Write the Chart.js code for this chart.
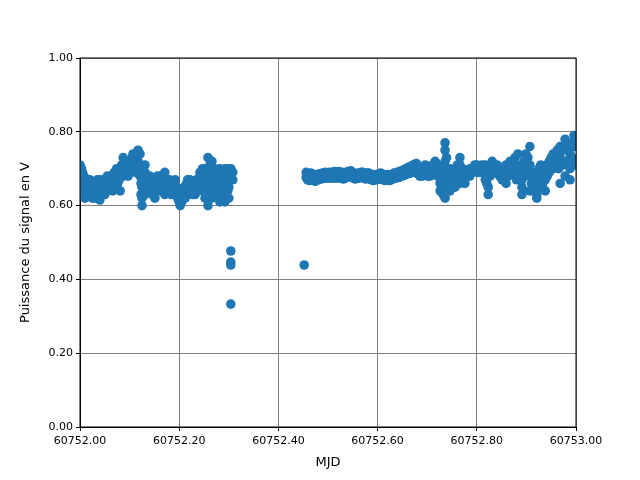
<!DOCTYPE html>
<html>
<head>
<meta charset="utf-8">
<script src="https://cdn.jsdelivr.net/npm/chart.js@4/dist/chart.umd.min.js"></script>
<style>
  html, body { margin: 0; padding: 0; background: #fff; }
  #zone { width: 640px; height: 480px; }
</style>
</head>
<body>
<div id="zone"><canvas id="canvasSignal"></canvas></div>
<script>
const mesuresMatin = [
    [60752.000, 0.71], [60752.000, 0.68], [60752.000, 0.66], [60752.000, 0.64],
    [60752.003, 0.70], [60752.003, 0.63],
    [60752.005, 0.67], [60752.005, 0.65], [60752.005, 0.69],
    [60752.008, 0.68], [60752.008, 0.63],
    [60752.010, 0.66], [60752.010, 0.64], [60752.010, 0.62],
    [60752.013, 0.66], [60752.013, 0.64],
    [60752.015, 0.65], [60752.015, 0.67], [60752.015, 0.63],
    [60752.018, 0.66], [60752.018, 0.64],
    [60752.020, 0.67], [60752.020, 0.64], [60752.020, 0.63],
    [60752.023, 0.65], [60752.023, 0.63],
    [60752.025, 0.62], [60752.025, 0.65], [60752.025, 0.66],
    [60752.028, 0.64], [60752.028, 0.63],
    [60752.030, 0.62], [60752.030, 0.64],
    [60752.033, 0.65], [60752.033, 0.63],
    [60752.035, 0.66], [60752.035, 0.63], [60752.035, 0.67],
    [60752.038, 0.65], [60752.038, 0.63],
    [60752.040, 0.615], [60752.040, 0.65], [60752.040, 0.67],
    [60752.043, 0.66], [60752.043, 0.63],
    [60752.045, 0.64], [60752.045, 0.66],
    [60752.048, 0.65], [60752.048, 0.67],
    [60752.050, 0.67], [60752.050, 0.64], [60752.050, 0.63],
    [60752.053, 0.65], [60752.053, 0.67],
    [60752.055, 0.66], [60752.055, 0.64], [60752.055, 0.68],
    [60752.058, 0.67], [60752.058, 0.65],
    [60752.060, 0.66], [60752.060, 0.65],
    [60752.063, 0.68], [60752.063, 0.66],
    [60752.066, 0.67], [60752.066, 0.64],
    [60752.069, 0.69], [60752.069, 0.66],
    [60752.071, 0.68], [60752.071, 0.67], [60752.071, 0.65],
    [60752.074, 0.70], [60752.074, 0.67],
    [60752.076, 0.69], [60752.076, 0.66],
    [60752.079, 0.70], [60752.079, 0.67],
    [60752.081, 0.69], [60752.081, 0.68], [60752.081, 0.64],
    [60752.084, 0.71], [60752.084, 0.69],
    [60752.087, 0.73], [60752.087, 0.71], [60752.087, 0.70], [60752.087, 0.68],
    [60752.090, 0.72], [60752.090, 0.70],
    [60752.092, 0.70], [60752.092, 0.69],
    [60752.095, 0.71], [60752.095, 0.69],
    [60752.097, 0.72], [60752.097, 0.69], [60752.097, 0.68],
    [60752.100, 0.71], [60752.100, 0.69],
    [60752.102, 0.71], [60752.102, 0.70],
    [60752.105, 0.73], [60752.105, 0.71],
    [60752.107, 0.74], [60752.107, 0.73], [60752.107, 0.70],
    [60752.110, 0.73], [60752.110, 0.70],
    [60752.112, 0.72], [60752.112, 0.69],
    [60752.115, 0.74], [60752.115, 0.71],
    [60752.117, 0.75], [60752.117, 0.72], [60752.117, 0.70],
    [60752.121, 0.74], [60752.121, 0.71], [60752.121, 0.68],
    [60752.123, 0.66], [60752.123, 0.63],
    [60752.125, 0.70], [60752.125, 0.62], [60752.125, 0.60], [60752.125, 0.65], [60752.125, 0.67],
    [60752.128, 0.69], [60752.128, 0.64],
    [60752.131, 0.71], [60752.131, 0.66], [60752.131, 0.63], [60752.131, 0.69],
    [60752.134, 0.67], [60752.134, 0.65],
    [60752.136, 0.66], [60752.136, 0.64],
    [60752.139, 0.67], [60752.139, 0.65],
    [60752.141, 0.64], [60752.141, 0.66], [60752.141, 0.68],
    [60752.144, 0.67], [60752.144, 0.65],
    [60752.146, 0.66], [60752.146, 0.63],
    [60752.149, 0.66], [60752.149, 0.64],
    [60752.151, 0.65], [60752.151, 0.62], [60752.151, 0.67],
    [60752.154, 0.67], [60752.154, 0.64],
    [60752.156, 0.66], [60752.156, 0.68],
    [60752.159, 0.67], [60752.159, 0.65],
    [60752.161, 0.66], [60752.161, 0.68], [60752.161, 0.64],
    [60752.164, 0.66], [60752.164, 0.64],
    [60752.166, 0.67], [60752.166, 0.65],
    [60752.169, 0.68], [60752.169, 0.66],
    [60752.171, 0.69], [60752.171, 0.67], [60752.171, 0.63],
    [60752.174, 0.67], [60752.174, 0.65],
    [60752.176, 0.66], [60752.176, 0.64],
    [60752.179, 0.66], [60752.179, 0.64],
    [60752.181, 0.65], [60752.181, 0.67],
    [60752.184, 0.65], [60752.184, 0.63],
    [60752.186, 0.66], [60752.186, 0.64],
    [60752.189, 0.66], [60752.189, 0.64],
    [60752.192, 0.67], [60752.192, 0.65], [60752.192, 0.63],
    [60752.194, 0.65], [60752.194, 0.63],
    [60752.197, 0.64], [60752.197, 0.62],
    [60752.200, 0.63], [60752.200, 0.61],
    [60752.202, 0.61], [60752.202, 0.60], [60752.202, 0.63],
    [60752.205, 0.63], [60752.205, 0.61],
    [60752.207, 0.62], [60752.207, 0.64],
    [60752.210, 0.63], [60752.210, 0.65],
    [60752.212, 0.62], [60752.212, 0.64],
    [60752.215, 0.64], [60752.215, 0.66],
    [60752.217, 0.65], [60752.217, 0.67], [60752.217, 0.64],
    [60752.220, 0.66], [60752.220, 0.64],
    [60752.222, 0.65], [60752.222, 0.67], [60752.222, 0.64],
    [60752.225, 0.64], [60752.225, 0.66],
    [60752.227, 0.63], [60752.227, 0.65],
    [60752.230, 0.64], [60752.230, 0.66],
    [60752.232, 0.63], [60752.232, 0.65],
    [60752.235, 0.65], [60752.235, 0.67],
    [60752.237, 0.66], [60752.237, 0.64],
    [60752.240, 0.65], [60752.240, 0.67],
    [60752.242, 0.66], [60752.242, 0.69], [60752.242, 0.68],
    [60752.245, 0.68], [60752.245, 0.65],
    [60752.247, 0.70], [60752.247, 0.66], [60752.247, 0.64],
    [60752.250, 0.68], [60752.250, 0.65],
    [60752.252, 0.70], [60752.252, 0.64], [60752.252, 0.62],
    [60752.254, 0.66], [60752.254, 0.68],
    [60752.256, 0.69], [60752.256, 0.67], [60752.256, 0.63],
    [60752.258, 0.73], [60752.258, 0.60], [60752.258, 0.66],
    [60752.260, 0.65], [60752.260, 0.70],
    [60752.262, 0.71], [60752.262, 0.62], [60752.262, 0.68],
    [60752.264, 0.66], [60752.264, 0.64],
    [60752.266, 0.72], [60752.266, 0.64], [60752.266, 0.62], [60752.266, 0.70],
    [60752.270, 0.69], [60752.270, 0.66],
    [60752.272, 0.68], [60752.272, 0.70], [60752.272, 0.63],
    [60752.275, 0.66], [60752.275, 0.69],
    [60752.277, 0.67], [60752.277, 0.65],
    [60752.280, 0.68], [60752.280, 0.64],
    [60752.282, 0.70], [60752.282, 0.66], [60752.282, 0.61],
    [60752.285, 0.67], [60752.285, 0.63],
    [60752.287, 0.68], [60752.287, 0.64],
    [60752.290, 0.69], [60752.290, 0.66],
    [60752.292, 0.70], [60752.292, 0.67], [60752.292, 0.61], [60752.292, 0.64],
    [60752.296, 0.69], [60752.296, 0.66],
    [60752.298, 0.68], [60752.298, 0.64],
    [60752.300, 0.70], [60752.300, 0.68], [60752.300, 0.65], [60752.300, 0.62],
    [60752.304, 0.70], [60752.304, 0.68],
    [60752.308, 0.69], [60752.308, 0.67]
];

// Points isolés (chutes du signal)
const mesuresIsolees = [
    [60752.304, 0.477], [60752.304, 0.447], [60752.304, 0.439], [60752.304, 0.333],
    [60752.452, 0.439]
];

// Partie stable du milieu de journée
const mesuresStables = [
    [60752.456, 0.690], [60752.456, 0.676],
    [60752.459, 0.686], [60752.459, 0.670],
    [60752.462, 0.685], [60752.462, 0.668],
    [60752.465, 0.688], [60752.465, 0.672],
    [60752.468, 0.686], [60752.468, 0.670],
    [60752.471, 0.684], [60752.471, 0.668],
    [60752.474, 0.682], [60752.474, 0.666],
    [60752.477, 0.684], [60752.477, 0.670],
    [60752.480, 0.682], [60752.480, 0.670],
    [60752.483, 0.686], [60752.483, 0.672],
    [60752.486, 0.684], [60752.486, 0.672],
    [60752.489, 0.688], [60752.489, 0.674],
    [60752.492, 0.688], [60752.492, 0.676],
    [60752.495, 0.690], [60752.495, 0.676],
    [60752.498, 0.686], [60752.498, 0.674],
    [60752.501, 0.688], [60752.501, 0.676],
    [60752.504, 0.690], [60752.504, 0.678],
    [60752.507, 0.688], [60752.507, 0.674],
    [60752.510, 0.690], [60752.510, 0.676],
    [60752.513, 0.692], [60752.513, 0.678],
    [60752.516, 0.688], [60752.516, 0.674],
    [60752.519, 0.690], [60752.519, 0.676],
    [60752.522, 0.692], [60752.522, 0.678],
    [60752.525, 0.688], [60752.525, 0.674],
    [60752.528, 0.690], [60752.528, 0.678],
    [60752.531, 0.688], [60752.531, 0.672],
    [60752.534, 0.686], [60752.534, 0.674],
    [60752.537, 0.690], [60752.537, 0.676],
    [60752.540, 0.692], [60752.540, 0.678],
    [60752.543, 0.692], [60752.543, 0.680],
    [60752.546, 0.694], [60752.546, 0.680],
    [60752.549, 0.690], [60752.549, 0.676],
    [60752.552, 0.688], [60752.552, 0.674],
    [60752.555, 0.686], [60752.555, 0.672],
    [60752.558, 0.684], [60752.558, 0.674],
    [60752.561, 0.688], [60752.561, 0.674],
    [60752.564, 0.688], [60752.564, 0.676],
    [60752.567, 0.690], [60752.567, 0.676],
    [60752.570, 0.690], [60752.570, 0.676],
    [60752.573, 0.688], [60752.573, 0.674],
    [60752.576, 0.686], [60752.576, 0.672],
    [60752.579, 0.688], [60752.579, 0.674],
    [60752.582, 0.688], [60752.582, 0.674],
    [60752.585, 0.686], [60752.585, 0.672],
    [60752.588, 0.684], [60752.588, 0.670],
    [60752.591, 0.682], [60752.591, 0.668],
    [60752.594, 0.680], [60752.594, 0.670],
    [60752.597, 0.684], [60752.597, 0.670],
    [60752.600, 0.684], [60752.600, 0.672],
    [60752.603, 0.686], [60752.603, 0.672],
    [60752.606, 0.688], [60752.606, 0.674],
    [60752.609, 0.686], [60752.609, 0.672],
    [60752.612, 0.684], [60752.612, 0.670],
    [60752.615, 0.682], [60752.615, 0.668],
    [60752.618, 0.682], [60752.618, 0.670],
    [60752.621, 0.684], [60752.621, 0.670],
    [60752.624, 0.680], [60752.624, 0.668],
    [60752.627, 0.682], [60752.627, 0.670],
    [60752.630, 0.684], [60752.630, 0.672],
    [60752.633, 0.688], [60752.633, 0.674],
    [60752.636, 0.686], [60752.636, 0.674],
    [60752.639, 0.690], [60752.639, 0.676],
    [60752.642, 0.690], [60752.642, 0.676],
    [60752.645, 0.692], [60752.645, 0.678],
    [60752.648, 0.694], [60752.648, 0.680],
    [60752.651, 0.696], [60752.651, 0.682],
    [60752.654, 0.696], [60752.654, 0.682],
    [60752.657, 0.700], [60752.657, 0.684],
    [60752.660, 0.702], [60752.660, 0.686],
    [60752.663, 0.704], [60752.663, 0.688],
    [60752.666, 0.704], [60752.666, 0.688],
    [60752.669, 0.708], [60752.669, 0.690],
    [60752.672, 0.710], [60752.672, 0.692],
    [60752.675, 0.712], [60752.675, 0.692],
    [60752.678, 0.714], [60752.678, 0.698], [60752.678, 0.688],
    [60752.681, 0.706], [60752.681, 0.690]
];

const mesuresSoir = [
    [60752.685, 0.69], [60752.685, 0.70], [60752.685, 0.68],
    [60752.690, 0.70], [60752.690, 0.68],
    [60752.696, 0.69], [60752.696, 0.71],
    [60752.701, 0.70], [60752.701, 0.68],
    [60752.706, 0.69], [60752.706, 0.70], [60752.706, 0.68],
    [60752.711, 0.71], [60752.711, 0.69],
    [60752.716, 0.72], [60752.716, 0.69],
    [60752.721, 0.71], [60752.721, 0.68],
    [60752.726, 0.70], [60752.726, 0.66], [60752.726, 0.64], [60752.726, 0.68],
    [60752.729, 0.69], [60752.729, 0.65],
    [60752.732, 0.70], [60752.732, 0.66], [60752.732, 0.63],
    [60752.736, 0.77], [60752.736, 0.75], [60752.736, 0.68], [60752.736, 0.62], [60752.736, 0.65], [60752.736, 0.72],
    [60752.739, 0.73], [60752.739, 0.70], [60752.739, 0.66],
    [60752.742, 0.70], [60752.742, 0.64], [60752.742, 0.67],
    [60752.746, 0.70], [60752.746, 0.66], [60752.746, 0.64],
    [60752.751, 0.69], [60752.751, 0.66],
    [60752.756, 0.70], [60752.756, 0.67], [60752.756, 0.65],
    [60752.761, 0.71], [60752.761, 0.68], [60752.761, 0.66],
    [60752.766, 0.73], [60752.766, 0.71], [60752.766, 0.68], [60752.766, 0.66],
    [60752.771, 0.70], [60752.771, 0.67],
    [60752.776, 0.69], [60752.776, 0.66],
    [60752.781, 0.69], [60752.781, 0.68],
    [60752.786, 0.68], [60752.786, 0.70],
    [60752.791, 0.70], [60752.791, 0.69],
    [60752.796, 0.70], [60752.796, 0.71],
    [60752.801, 0.71], [60752.801, 0.69],
    [60752.806, 0.70], [60752.806, 0.69],
    [60752.811, 0.71], [60752.811, 0.69],
    [60752.817, 0.69], [60752.817, 0.71], [60752.817, 0.67],
    [60752.820, 0.68], [60752.820, 0.66],
    [60752.823, 0.63], [60752.823, 0.65],
    [60752.827, 0.70], [60752.827, 0.68],
    [60752.831, 0.70], [60752.831, 0.72],
    [60752.836, 0.71], [60752.836, 0.69],
    [60752.841, 0.71], [60752.841, 0.69],
    [60752.846, 0.70], [60752.846, 0.68],
    [60752.851, 0.70], [60752.851, 0.68], [60752.851, 0.67],
    [60752.855, 0.69], [60752.855, 0.67],
    [60752.859, 0.71], [60752.859, 0.66],
    [60752.863, 0.70], [60752.863, 0.68],
    [60752.867, 0.72], [60752.867, 0.70],
    [60752.872, 0.71], [60752.872, 0.69],
    [60752.877, 0.73], [60752.877, 0.69], [60752.877, 0.68],
    [60752.880, 0.71], [60752.880, 0.67],
    [60752.883, 0.74], [60752.883, 0.70],
    [60752.887, 0.69], [60752.887, 0.67],
    [60752.891, 0.65], [60752.891, 0.63], [60752.891, 0.67], [60752.891, 0.70],
    [60752.895, 0.72], [60752.895, 0.68],
    [60752.899, 0.74], [60752.899, 0.72], [60752.899, 0.70],
    [60752.903, 0.73], [60752.903, 0.69],
    [60752.907, 0.76], [60752.907, 0.71], [60752.907, 0.68], [60752.907, 0.64],
    [60752.910, 0.69], [60752.910, 0.66],
    [60752.913, 0.64], [60752.913, 0.66], [60752.913, 0.68],
    [60752.917, 0.67], [60752.917, 0.65],
    [60752.921, 0.63], [60752.921, 0.62], [60752.921, 0.69], [60752.921, 0.66],
    [60752.925, 0.70], [60752.925, 0.67],
    [60752.929, 0.68], [60752.929, 0.65], [60752.929, 0.71],
    [60752.933, 0.69], [60752.933, 0.66],
    [60752.938, 0.70], [60752.938, 0.67], [60752.938, 0.64],
    [60752.942, 0.71], [60752.942, 0.68],
    [60752.946, 0.72], [60752.946, 0.69],
    [60752.950, 0.73], [60752.950, 0.70],
    [60752.954, 0.74], [60752.954, 0.70],
    [60752.958, 0.73], [60752.958, 0.71],
    [60752.962, 0.75], [60752.962, 0.72],
    [60752.965, 0.74], [60752.965, 0.70],
    [60752.968, 0.76], [60752.968, 0.73], [60752.968, 0.66],
    [60752.973, 0.75], [60752.973, 0.71],
    [60752.978, 0.78], [60752.978, 0.72], [60752.978, 0.68],
    [60752.983, 0.76], [60752.983, 0.72],
    [60752.988, 0.74], [60752.988, 0.70], [60752.988, 0.67],
    [60752.992, 0.77], [60752.992, 0.73],
    [60752.996, 0.79], [60752.996, 0.76], [60752.996, 0.71],
    [60753.000, 0.78], [60753.000, 0.72]
];

const MJD_MIN = 60752;
const MJD_MAX = 60753;
const PAS_MJD = 0.2;
const PUISSANCE_MIN = 0;
const PUISSANCE_MAX = 1;
const PAS_PUISSANCE = 0.2;

const BLEU = '#1f77b4';

// Cadre complet autour de la zone de tracé (comme matplotlib)
const cadre = {
    id: 'cadre',
    afterDraw(chart) {
        const { ctx, chartArea: a } = chart;
        ctx.save();
        ctx.strokeStyle = '#000';
        ctx.lineWidth = 1;
        ctx.strokeRect(a.left, a.top, a.right - a.left, a.bottom - a.top);
        ctx.restore();
    }
};

function versPoints(liste) {
    return liste.map(m => ({ x: m[0], y: m[1] }));
}

const toutesMesures = [...mesuresMatin, ...mesuresIsolees, ...mesuresStables, ...mesuresSoir];

new Chart(document.getElementById('canvasSignal'), {
    type: 'scatter',
    data: {
        datasets: [{
            data: versPoints(toutesMesures),
            backgroundColor: BLEU,
            borderColor: BLEU,
            borderWidth: 0,
            pointRadius: 4.8,
            pointHoverRadius: 4.8
        }]
    },
    options: {
        responsive: true,
        maintainAspectRatio: false,
        animation: false,
        layout: { padding: { top: 58, right: 64, left: 0, bottom: 0 } },
        plugins: {
            legend: { display: false },
            tooltip: { enabled: false }
        },
        scales: {
            x: {
                type: 'linear',
                min: MJD_MIN,
                max: MJD_MAX,
                afterFit: s => { s.height = 53; },
                border: { color: '#000' },
                grid: { color: '#808080', tickColor: '#000', tickLength: 4, lineWidth: 1 },
                ticks: {
                    stepSize: PAS_MJD,
                    color: '#000',
                    padding: 4,
                    maxRotation: 0,
                    font: { family: 'DejaVu Sans', size: 11 },
                    callback: v => Number(v).toFixed(2)
                },
                title: {
                    display: true,
                    text: 'MJD',
                    color: '#000',
                    font: { family: 'DejaVu Sans', size: 13 },
                    padding: { top: 0, bottom: 10 }
                }
            },
            y: {
                min: PUISSANCE_MIN,
                max: PUISSANCE_MAX,
                afterFit: s => { s.width = 80; },
                border: { color: '#000' },
                grid: { color: '#808080', tickColor: '#000', tickLength: 4, lineWidth: 1 },
                ticks: {
                    stepSize: PAS_PUISSANCE,
                    color: '#000',
                    padding: 3,
                    font: { family: 'DejaVu Sans', size: 11 },
                    callback: v => Number(v).toFixed(2)
                },
                title: {
                    display: true,
                    text: 'Puissance du signal en V',
                    color: '#000',
                    font: { family: 'DejaVu Sans', size: 13 },
                    padding: { top: 18, bottom: 0 }
                }
            }
        }
    },
    plugins: [cadre]
});
</script>
</body>
</html>
